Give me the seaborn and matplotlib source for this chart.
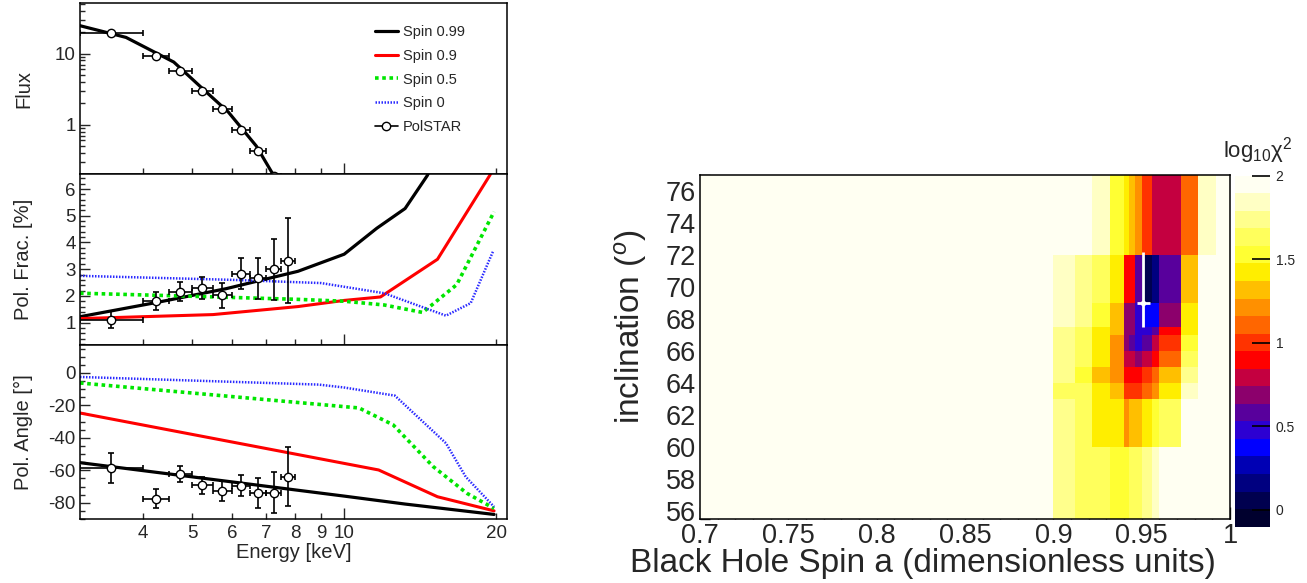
import numpy as np
import seaborn as sns
import matplotlib.pyplot as plt
from matplotlib import ticker
from matplotlib.colors import ListedColormap, BoundaryNorm
from matplotlib.lines import Line2D

# ---- PolSTAR simulated points (energy bins in keV) ----
e_lo = [3.0, 4.0, 4.5, 5.0, 5.5, 6.0, 6.5, 7.0, 7.5]
e_hi = [4.0, 4.5, 5.0, 5.5, 6.0, 6.5, 7.0, 7.5, 8.0]
e_mid = [3.46, 4.24, 4.74, 5.24, 5.74, 6.24, 6.75, 7.25, 7.75]
flux = [19.5, 9.4, 5.65, 3.0, 1.64, 0.84, 0.42, 0.19, 0.09]
pfrac = [1.11, 1.82, 2.16, 2.29, 2.03, 2.83, 2.66, 3.0, 3.31]
pfrac_err = [0.33, 0.34, 0.35, 0.40, 0.47, 0.58, 0.76, 1.14, 1.59]
pang = [-58.8, -77.5, -62.3, -69.1, -72.6, -69.5, -73.8, -73.8, -63.9]
pang_err = [9.3, 5.7, 5.2, 5.2, 6.2, 6.4, 9.3, 12.7, 18.0]

# ---- model curves ----
spin_labels = ["Spin 0.99", "Spin 0.9", "Spin 0.5", "Spin 0"]
flux_e = [3.0, 3.7, 4.6, 5.3, 5.9, 6.7, 7.2, 7.6]
flux_099 = [24.7, 16.9, 7.6, 3.0, 1.5, 0.5, 0.21, 0.1]

pf_e_099 = [3.0, 4.3, 5.84, 8.1, 10.0, 11.6, 13.2, 14.6, 15.5]
pf_099 = [1.22, 1.77, 2.27, 2.92, 3.56, 4.53, 5.27, 6.5, 7.5]
pf_e_09 = [3.0, 5.5, 8.1, 10.0, 11.8, 15.3, 19.4, 20.0]
pf_09 = [1.15, 1.3, 1.6, 1.83, 1.96, 3.37, 6.5, 6.95]
pf_e_05 = [3.0, 4.7, 8.1, 10.0, 12.0, 14.3, 16.7, 19.8]
pf_05 = [2.1, 2.0, 1.87, 1.8, 1.66, 1.38, 2.42, 5.15]
pf_e_0 = [3.0, 6.0, 9.0, 12.0, 15.9, 17.8, 19.7]
pf_0 = [2.75, 2.6, 2.48, 2.1, 1.26, 1.73, 3.66]

pa_e_099 = [3.0, 10.0, 13.2, 19.8]
pa_099 = [-55.3, -75.9, -80.8, -87.2]
pa_e_09 = [3.0, 11.7, 15.3, 19.8]
pa_09 = [-24.7, -59.8, -76.3, -85.0]
pa_e_05 = [3.0, 10.7, 12.5, 15.0, 17.5, 19.8]
pa_05 = [-6.2, -21.6, -32.0, -57.7, -74.2, -83.5]
pa_e_0 = [3.0, 8.9, 10.0, 12.6, 15.9, 17.4, 19.8]
pa_0 = [-2.5, -7.2, -9.0, -14.0, -43.3, -64.0, -82.5]

# ---- chi2 scan: spin x inclination ----
spin_edges = [0.70, 0.900, 0.912, 0.922, 0.932, 0.940, 0.943, 0.946,
              0.950, 0.956, 0.960, 0.972, 0.982, 0.992, 1.000]
incl_edges = [55.5, 60, 63, 64, 65, 66, 67, 67.5, 69, 72, 77]
log_chi2 = [
    [2.4, 1.74, 1.63, 1.63, 1.53, 1.53, 1.63, 1.63, 1.74, 1.84, 2.4, 2.4, 2.4, 2.4],
    [2.4, 1.74, 1.63, 1.42, 1.42, 1.21, 1.32, 1.32, 1.42, 1.53, 1.63, 2.4, 2.4, 2.4],
    [2.4, 1.63, 1.63, 1.42, 1.32, 1.00, 1.00, 1.00, 1.11, 1.21, 1.42, 1.84, 2.4, 2.4],
    [2.4, 1.74, 1.53, 1.32, 1.21, 0.90, 0.90, 0.90, 1.00, 1.11, 1.32, 1.74, 2.4, 2.4],
    [2.4, 1.74, 1.63, 1.42, 1.21, 0.79, 0.79, 0.69, 0.79, 0.90, 1.11, 1.63, 2.4, 2.4],
    [2.4, 1.74, 1.63, 1.42, 1.21, 0.69, 0.58, 0.48, 0.58, 0.79, 1.00, 1.53, 2.4, 2.4],
    [2.4, 1.74, 1.63, 1.42, 1.32, 0.69, 0.69, 0.48, 0.48, 0.58, 0.90, 1.42, 2.4, 2.4],
    [2.4, 1.84, 1.74, 1.53, 1.32, 0.69, 0.69, 0.48, 0.37, 0.37, 0.69, 1.42, 2.4, 2.4],
    [2.4, 1.84, 1.74, 1.63, 1.42, 0.90, 0.90, 0.58, 0.06, 0.16, 0.58, 1.32, 2.4, 2.4],
    [2.4, 2.4, 2.4, 1.84, 1.53, 1.42, 1.32, 1.21, 1.00, 0.79, 0.79, 1.11, 1.84, 2.4],
]
best_spin, best_incl = 0.951, 69.0
best_spin_err = 0.0035
best_incl_err = [1.5, 3.2]

palette = ["#00002e", "#00004f", "#000080", "#0000b4", "#0000ff",
           "#2c00d2", "#58009c", "#8c006c", "#c40040", "#ff0000",
           "#ff3300", "#ff6600", "#ff9000", "#ffbf00", "#ffee00",
           "#ffff33", "#ffff5c", "#ffff8c", "#ffffc4", "#fffff2"]

sns.set_theme(style="ticks")
plt.rcParams["font.family"] = ["Liberation Sans", "DejaVu Sans"]
plt.rcParams["mathtext.fontset"] = "custom"
plt.rcParams["mathtext.rm"] = "Liberation Sans"
plt.rcParams["mathtext.it"] = "Liberation Sans:italic"
plt.rcParams["axes.unicode_minus"] = False
plt.rcParams["axes.edgecolor"] = "black"
plt.rcParams["axes.linewidth"] = 1.1

fig = plt.figure(figsize=(13.07, 5.83), dpi=100)
ax1 = fig.add_axes([0.0612, 0.701, 0.3267, 0.2933])
ax2 = fig.add_axes([0.0612, 0.4077, 0.3267, 0.2933])
ax3 = fig.add_axes([0.0612, 0.1098, 0.3267, 0.2979])
axh = fig.add_axes([0.5356, 0.1106, 0.4055, 0.5892])
cax = fig.add_axes([0.9449, 0.0966, 0.0268, 0.6020])

styles = [
    dict(color="black", lw=2.3, linestyle="-"),
    dict(color="#ff0000", lw=2.2, linestyle="-"),
    dict(color="#00e600", lw=2.6, linestyle=(0, (1.0, 1.0))),
    dict(color="#2a2aff", lw=1.8, linestyle=(0, (0.6, 0.6))),
]

# flux panel
sns.lineplot(x=flux_e, y=flux_099, ax=ax1, legend=False, **styles[0])
# polarization fraction panel
for xs, ys, st in zip([pf_e_099, pf_e_09, pf_e_05, pf_e_0],
                      [pf_099, pf_09, pf_05, pf_0], styles):
    sns.lineplot(x=xs, y=ys, ax=ax2, legend=False, **st)
# polarization angle panel
for xs, ys, st in zip([pa_e_099, pa_e_09, pa_e_05, pa_e_0],
                      [pa_099, pa_09, pa_05, pa_0], styles):
    sns.lineplot(x=xs, y=ys, ax=ax3, legend=False, **st)

xerr = [np.subtract(e_mid, e_lo), np.subtract(e_hi, e_mid)]
for ax, ys, yerr in [(ax1, flux, None), (ax2, pfrac, pfrac_err), (ax3, pang, pang_err)]:
    ax.errorbar(e_mid, ys, xerr=xerr, yerr=yerr, fmt="none", ecolor="black",
                elinewidth=1.2, capsize=2.5, capthick=1.2, zorder=4)
    sns.scatterplot(x=e_mid, y=ys, ax=ax, s=36, color="white", edgecolor="black",
                    linewidth=1.0, zorder=5, legend=False)

for ax in (ax1, ax2, ax3):
    ax.set_xscale("log")
    ax.set_xlim(3, 21)
    ax.xaxis.set_major_locator(ticker.FixedLocator([10]))
    ax.xaxis.set_minor_locator(ticker.FixedLocator([4, 5, 6, 7, 8, 9, 20]))
    ax.xaxis.set_major_formatter(ticker.FuncFormatter(lambda v, p: f"{v:g}"))
    ax.xaxis.set_minor_formatter(ticker.FuncFormatter(lambda v, p: f"{v:g}"))
    ax.tick_params(axis="x", which="major", direction="in", length=8, width=1)
    ax.tick_params(axis="x", which="minor", direction="in", length=4.5, width=1)
    ax.tick_params(axis="y", which="major", direction="in", length=7, width=1,
                   labelsize=13.5, pad=3)
    ax.tick_params(axis="y", which="minor", direction="in", length=3.5, width=1)
    ax.tick_params(axis="x", which="both", labelsize=13.5, pad=4)
    for s in ax.spines.values():
        s.set_visible(True)
        s.set_color("black")
for ax in (ax1, ax2):
    ax.tick_params(axis="x", which="both", labelbottom=False)

ax1.set_yscale("log")
ax1.set_ylim(0.2, 51)
ax1.yaxis.set_major_locator(ticker.FixedLocator([1, 10]))
ax1.yaxis.set_major_formatter(ticker.FuncFormatter(lambda v, p: f"{v:g}"))
ax1.yaxis.set_minor_locator(ticker.LogLocator(base=10, subs=range(2, 10), numticks=20))
ax1.yaxis.set_minor_formatter(ticker.NullFormatter())

ax2.set_ylim(0.15, 6.55)
ax2.yaxis.set_major_locator(ticker.MultipleLocator(1))
ax2.yaxis.set_minor_locator(ticker.MultipleLocator(0.2))
ax2.yaxis.set_major_formatter(ticker.FuncFormatter(lambda v, p: f"{v:g}"))

ax3.set_ylim(-90, 17)
ax3.yaxis.set_major_locator(ticker.MultipleLocator(20))
ax3.yaxis.set_minor_locator(ticker.MultipleLocator(5))
ax3.yaxis.set_major_formatter(ticker.FuncFormatter(lambda v, p: f"{v:g}"))

ax1.set_ylabel("Flux", fontsize=14.5)
ax2.set_ylabel("Pol. Frac. [%]", fontsize=14.5)
ax3.set_ylabel("Pol. Angle [°]", fontsize=14.5)
for ax in (ax1, ax2, ax3):
    ax.yaxis.set_label_coords(-0.11, 0.5)
ax3.set_xlabel("Energy [keV]", fontsize=14.5)
ax3.xaxis.set_label_coords(0.5, -0.14)

handles = [Line2D([], [], **st) for st in styles]
handles.append(Line2D([], [], color="black", lw=1.2, marker="o", ms=6,
                      mfc="white", mec="black"))
ax1.legend(handles, spin_labels + ["PolSTAR"], loc="upper left",
           bbox_to_anchor=(0.69, 0.875), frameon=False, fontsize=10.5,
           handlelength=1.6, handletextpad=0.35, labelspacing=0.68,
           borderpad=0, borderaxespad=0)

# chi2 map
cmap = ListedColormap(palette)
cmap.set_over(palette[-1])
cmap.set_under(palette[0])
norm = BoundaryNorm(np.linspace(-0.1, 2.0, 21), cmap.N)
mesh = axh.pcolormesh(spin_edges, incl_edges, np.array(log_chi2),
                      cmap=cmap, norm=norm, shading="flat")
axh.errorbar([best_spin], [best_incl], xerr=best_spin_err,
             yerr=[[best_incl_err[0]], [best_incl_err[1]]], fmt="o",
             color="white", ms=3, elinewidth=2, capsize=0, zorder=5)
axh.set_xlim(0.7, 1.0)
axh.set_ylim(55.5, 77)
axh.xaxis.set_major_locator(ticker.MultipleLocator(0.05))
axh.xaxis.set_minor_locator(ticker.MultipleLocator(0.01))
axh.yaxis.set_major_locator(ticker.MultipleLocator(2))
axh.yaxis.set_minor_locator(ticker.MultipleLocator(0.5))
axh.xaxis.set_major_formatter(ticker.FuncFormatter(lambda v, p: f"{v:g}"))
axh.yaxis.set_major_formatter(ticker.FuncFormatter(lambda v, p: f"{v:g}"))
axh.tick_params(axis="x", which="major", direction="in", length=9, width=1,
                labelsize=19.5, pad=3)
axh.tick_params(axis="x", which="minor", direction="in", length=4.5, width=1)
axh.tick_params(axis="y", which="major", direction="in", length=13, width=1,
                labelsize=19.5, pad=3)
axh.tick_params(axis="y", which="minor", direction="in", length=7, width=1)
for s in axh.spines.values():
    s.set_visible(True)
    s.set_color("black")
axh.set_xlabel("Black Hole Spin a (dimensionless units)", fontsize=24)
axh.xaxis.set_label_coords(0.42, -0.085)
axh.set_ylabel(r"inclination ($^{o}$)", fontsize=24)
axh.yaxis.set_label_coords(-0.097, 0.557)

cb = fig.colorbar(mesh, cax=cax, ticks=[0, 0.5, 1, 1.5, 2])
cb.outline.set_visible(False)
cb.solids.set_zorder(0.5)
cax.set_axisbelow(False)
cb.ax.yaxis.set_ticks_position("right")
cb.ax.tick_params(which="major", direction="in", length=13, width=1.2,
                  labelsize=10, pad=4, color="black", zorder=10)
cb.ax.minorticks_off()
cb.ax.set_yticklabels(["0", "0.5", "1", "1.5", "2"])
fig.text(0.989, 0.716, r"$\mathrm{log}_{10}$χ$^{2}$", ha="right", va="bottom",
         fontsize=16)

fig.savefig("out.png", dpi=100)
